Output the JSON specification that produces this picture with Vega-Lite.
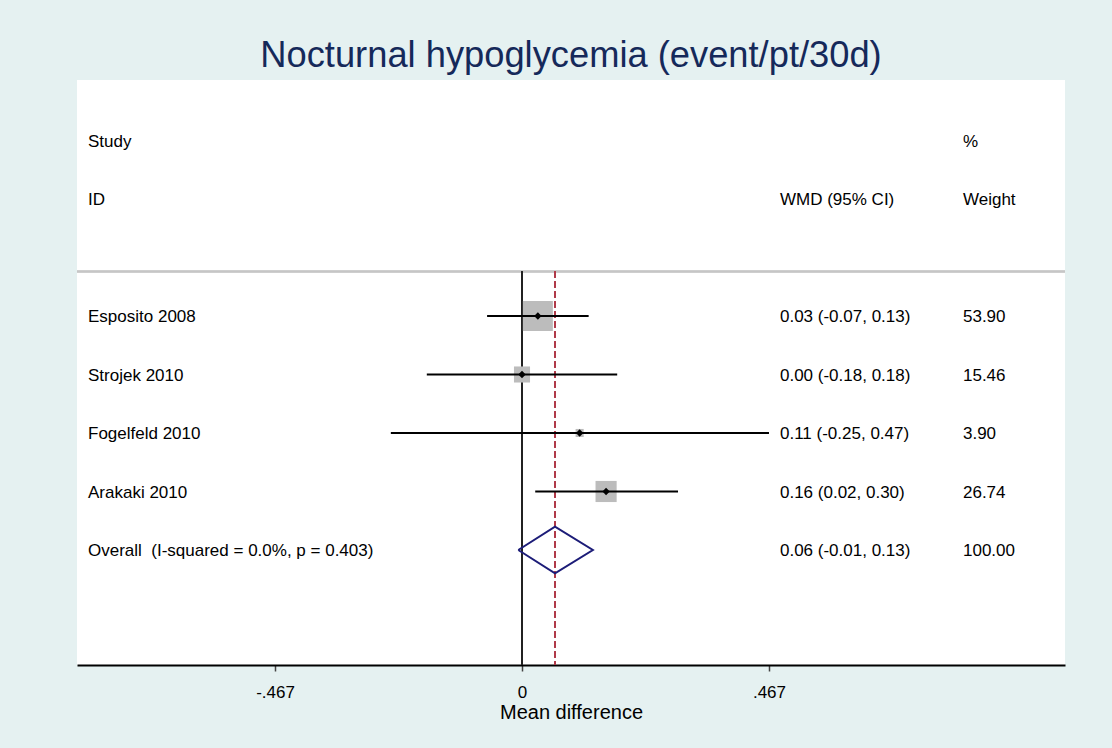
{
  "$schema": "https://vega.github.io/schema/vega-lite/v6.json",
  "width": 988,
  "height": 585,
  "autosize": {"type": "none"},
  "padding": {"left": 77, "top": 80, "right": 47, "bottom": 83},
  "background": "#e5f1f1",
  "config": {
    "font": "Liberation Sans",
    "view": {"fill": "white", "stroke": null}
  },
  "title": {
    "text": "Nocturnal hypoglycemia (event/pt/30d)",
    "fontSize": 36.3,
    "fontWeight": "normal",
    "font": "Liberation Sans",
    "color": "#15295a",
    "anchor": "middle",
    "offset": 6
  },
  "data": {
    "values": [
      {"row": 1, "label": "Study", "wt": "%"},
      {"row": 2, "label": "ID", "ci": "WMD (95% CI)", "wt": "Weight"},
      {"row": 4, "type": "study", "label": "Esposito 2008", "est": 0.030, "lower": -0.066, "upper": 0.126, "weight": 53.90, "ci": "0.03 (-0.07, 0.13)", "wt": "53.90"},
      {"row": 5, "type": "study", "label": "Strojek 2010", "est": 0.000, "lower": -0.180, "upper": 0.180, "weight": 15.46, "ci": "0.00 (-0.18, 0.18)", "wt": "15.46"},
      {"row": 6, "type": "study", "label": "Fogelfeld 2010", "est": 0.109, "lower": -0.248, "upper": 0.467, "weight": 3.90, "ci": "0.11 (-0.25, 0.47)", "wt": "3.90"},
      {"row": 7, "type": "study", "label": "Arakaki 2010", "est": 0.159, "lower": 0.025, "upper": 0.295, "weight": 26.74, "ci": "0.16 (0.02, 0.30)", "wt": "26.74"},
      {"row": 8, "type": "overall", "label": "Overall\u00a0 (I-squared = 0.0%, p = 0.403)", "est": 0.062, "lower": -0.007, "upper": 0.134, "ci": "0.06 (-0.01, 0.13)", "wt": "100.00"}
    ]
  },
  "encoding": {
    "y": {
      "field": "row",
      "type": "quantitative",
      "scale": {"domain": [-0.034, 9.966], "reverse": true, "nice": false, "zero": false},
      "axis": null
    }
  },
  "layer": [
    {
      "mark": {"type": "rule", "color": "#c6c6c6", "strokeWidth": 1.5},
      "encoding": {"y": {"datum": 3.24}}
    },
    {
      "mark": {"type": "rule", "color": "#222222", "strokeWidth": 1.5},
      "encoding": {"x": {"datum": 0}, "y": {"datum": 3.24}, "y2": {"datum": 9.966}}
    },
    {
      "mark": {"type": "rule", "color": "#b03a48", "strokeWidth": 1.5, "strokeDash": [6, 4]},
      "encoding": {"x": {"datum": 0.0624}, "y": {"datum": 3.24}, "y2": {"datum": 9.966}}
    },
    {
      "transform": [{"filter": "datum.type == 'study'"}],
      "mark": {"type": "point", "shape": "square", "filled": true, "color": "#bcbcbc", "opacity": 1},
      "encoding": {
        "x": {"field": "est", "type": "quantitative"},
        "size": {"field": "weight", "type": "quantitative", "scale": {"type": "linear", "domain": [0, 53.9], "range": [0, 900], "zero": true}, "legend": null}
      }
    },
    {
      "transform": [{"filter": "datum.type == 'study'"}],
      "mark": {"type": "rule", "color": "black", "strokeWidth": 2},
      "encoding": {
        "x": {"field": "lower", "type": "quantitative"},
        "x2": {"field": "upper"}
      }
    },
    {
      "transform": [{"filter": "datum.type == 'study'"}],
      "mark": {"type": "point", "shape": "diamond", "filled": true, "color": "black", "opacity": 1, "size": 55},
      "encoding": {
        "x": {
          "field": "est",
          "type": "quantitative",
          "scale": {"domain": [-0.8414, 1.0267], "nice": false, "zero": false},
          "axis": {
            "values": [-0.467, 0, 0.467],
            "format": ".3~f",
            "labelExpr": "replace(replace(datum.label, '0.', '.'), '\u2212', '-')",
            "title": "Mean difference",
            "grid": false,
            "domainColor": "black",
            "domainWidth": 2,
            "tickColor": "#444444",
            "tickWidth": 1.5,
            "tickSize": 6,
            "labelFont": "Liberation Sans",
            "labelFontSize": 17,
            "labelColor": "black",
            "labelPadding": 13,
            "titleFont": "Liberation Sans",
            "titleFontSize": 20,
            "titleFontWeight": "normal",
            "titleColor": "black",
            "titlePadding": 2
          }
        }
      }
    },
    {
      "data": {
        "values": [
          {"k": 0, "x": -0.007, "y": 8},
          {"k": 1, "x": 0.0624, "y": 7.6},
          {"k": 2, "x": 0.134, "y": 8},
          {"k": 3, "x": 0.0624, "y": 8.4},
          {"k": 4, "x": -0.007, "y": 8}
        ]
      },
      "mark": {"type": "line", "color": "#1c1c78", "strokeWidth": 2},
      "encoding": {
        "x": {"field": "x", "type": "quantitative"},
        "y": {"field": "y", "type": "quantitative"},
        "order": {"field": "k", "type": "quantitative"}
      }
    },
    {
      "mark": {"type": "text", "align": "left", "baseline": "middle", "dy": 1.5, "fontSize": 17, "font": "Liberation Sans", "color": "black"},
      "encoding": {"x": {"datum": -0.8206}, "text": {"field": "label"}}
    },
    {
      "transform": [{"filter": "datum.ci"}],
      "mark": {"type": "text", "align": "left", "baseline": "middle", "dy": 1.5, "fontSize": 17, "font": "Liberation Sans", "color": "black"},
      "encoding": {"x": {"datum": 0.4878}, "text": {"field": "ci"}}
    },
    {
      "transform": [{"filter": "datum.wt"}],
      "mark": {"type": "text", "align": "left", "baseline": "middle", "dy": 1.5, "fontSize": 17, "font": "Liberation Sans", "color": "black"},
      "encoding": {"x": {"datum": 0.8338}, "text": {"field": "wt"}}
    }
  ]
}
